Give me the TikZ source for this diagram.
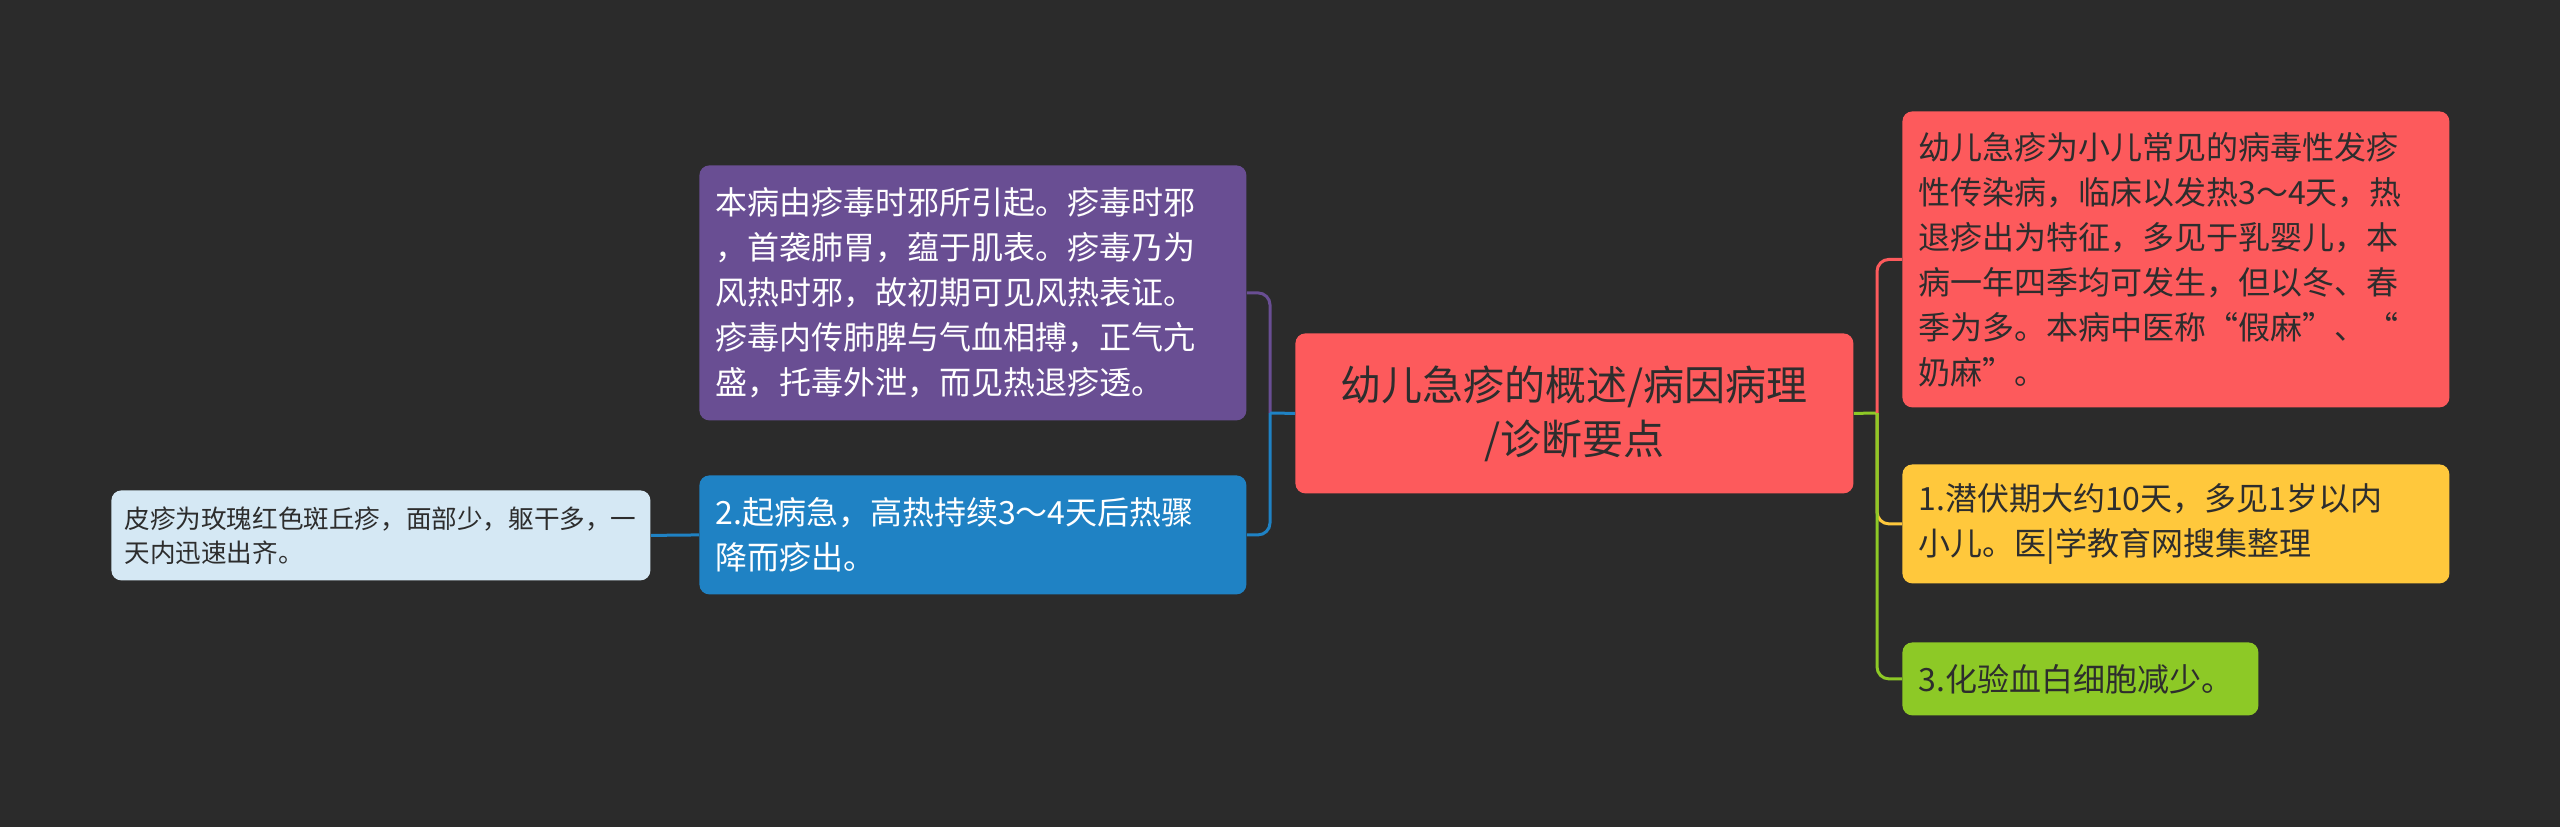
\documentclass[tikz,border=0pt]{standalone}
\usepackage{fontspec}
\setmainfont{Noto Sans CJK SC}
\definecolor{bgc}{RGB}{43,43,43}
\definecolor{purplec}{RGB}{105,78,147}
\definecolor{bluec}{RGB}{31,130,196}
\definecolor{lbluec}{RGB}{213,232,244}
\definecolor{redc}{RGB}{253,90,92}
\definecolor{yellowc}{RGB}{255,200,60}
\definecolor{greenc}{RGB}{141,201,38}
\definecolor{darkc}{RGB}{45,45,45}
\tikzset{
  box/.style={anchor=north west, rounded corners=5pt, inner ysep=0pt, align=left},
  midbox/.style={box, inner xsep=8pt, text width=257.5pt, minimum width=273.5pt, font=\fontsize{16}{22.5}\selectfont},
  conn/.style={line width=1.5pt, rounded corners=6pt}
}
\begin{document}
\begin{tikzpicture}[x=0.5pt,y=-0.5pt]
\fill[bgc] (0,0) rectangle (2560,827);
\useasboundingbox (0,0) rectangle (2560,827);
% center
\node[box, fill=redc, text=darkc, align=center, inner xsep=0pt, text width=279pt, minimum width=279pt, minimum height=80pt, font=\fontsize{20.5}{27}\selectfont] (center) at (1295,333) {幼儿急疹的概述/病因病理\\/诊断要点};
% left
\node[midbox, fill=purplec, text=white, minimum height=127.5pt] (purple) at (699,165) {本病由疹毒时邪所引起。疹毒时邪\\，首袭肺胃，蕴于肌表。疹毒乃为\\风热时邪，故初期可见风热表证。\\疹毒内传肺脾与气血相搏，正气亢\\盛，托毒外泄，而见热退疹透。};
\node[midbox, fill=bluec, text=white, minimum height=59.5pt] (blue) at (699,475) {2.起病急，高热持续3～4天后热骤\\降而疹出。};
\node[box, fill=lbluec, text=darkc, inner xsep=6.5pt, text width=256.5pt, minimum width=269.5pt, minimum height=45pt, font=\fontsize{12.8}{17}\selectfont] (lblue) at (111,490) {皮疹为玫瑰红色斑丘疹，面部少，躯干多，一\\天内迅速出齐。};
% right
\node[midbox, fill=redc, text=darkc, minimum height=148pt] (red) at (1902,111) {幼儿急疹为小儿常见的病毒性发疹\\性传染病，临床以发热3～4天，热\\退疹出为特征，多见于乳婴儿，本\\病一年四季均可发生，但以冬、春\\季为多。本病中医称“假麻”、“\\奶麻”。};
\node[midbox, fill=yellowc, text=darkc, minimum height=59.5pt] (yellow) at (1902,464) {1.潜伏期大约10天，多见1岁以内\\小儿。医|学教育网搜集整理};
\node[midbox, fill=greenc, text=darkc, text width=162pt, minimum width=178pt, minimum height=36.5pt] (green) at (1902,642) {3.化验血白细胞减少。};
% junctions
\coordinate (jl) at (1270,413);
\coordinate (jr) at (1877,413);
% connectors left
\draw[conn, purplec] (purple.east) -| (jl);
\draw[conn, bluec] (jl) |- (blue.east);
\draw[line width=1.5pt, bluec] (center.west) -- (jl);
\draw[line width=1.5pt, bluec] (lblue.east) -- (blue.west);
% connectors right
\draw[line width=1.5pt, greenc] (center.east) -- (jr);
\draw[conn, redc] (jr) |- (red.west);
\draw[conn, yellowc] (jr) |- (yellow.west);
\draw[conn, greenc] (jr) |- (green.west);
\end{tikzpicture}
\end{document}
